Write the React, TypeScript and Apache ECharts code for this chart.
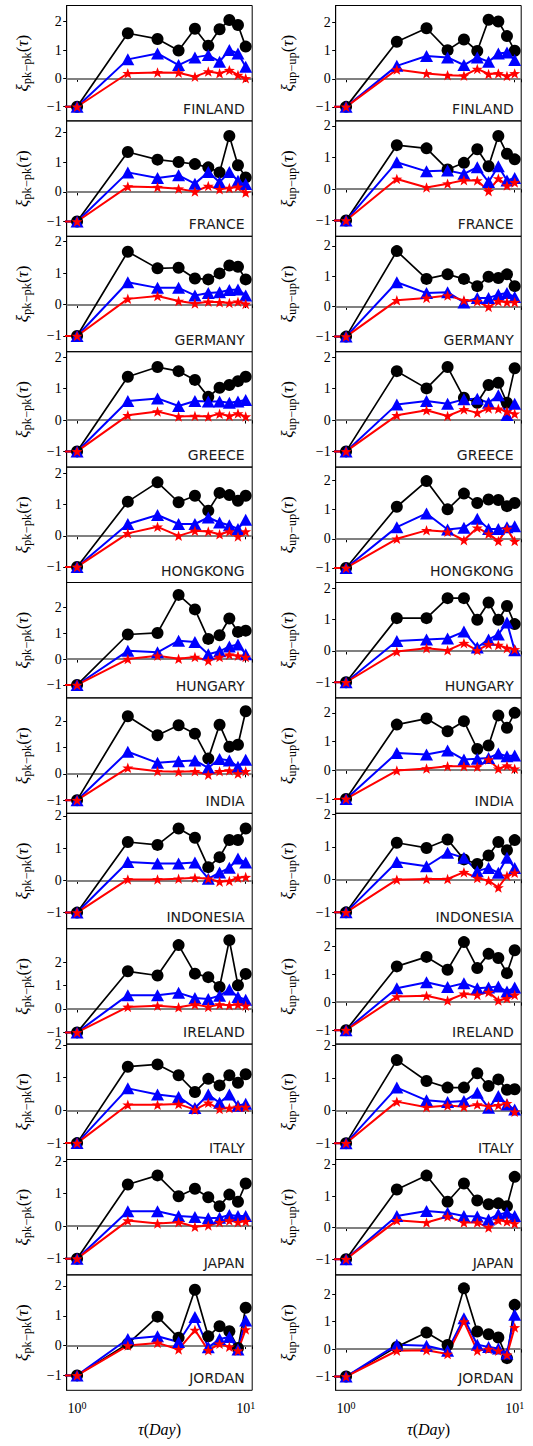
import React, { useEffect, useRef } from 'react';
import * as echarts from 'echarts';

const COUNTRIES = ['FINLAND', 'FRANCE', 'GERMANY', 'GREECE', 'HONGKONG', 'HUNGARY', 'INDIA', 'INDONESIA', 'IRELAND', 'ITALY', 'JAPAN', 'JORDAN'];

// lags; τ = 0 cannot sit on a log axis, it is clipped far left as matplotlib does
const TAU = [0, 1, 2, 3, 4, 5, 6, 7, 8, 9, 10];
const TAU_CLIP = 1e-3;

// ξ_pk-pk(τ), one row per country, values for τ = 0..10
const PK_BLACK = [
  [-1, -1, 1.59, 1.39, 0.98, 1.75, 1.15, 1.73, 2.06, 1.88, 1.12],
  [-1, -1, 1.35, 1.09, 1.01, 0.94, 0.83, 0.66, 1.89, 0.90, 0.49],
  [-1, -1, 1.68, 1.15, 1.17, 0.83, 0.80, 0.99, 1.24, 1.20, 0.80],
  [-1, -1, 1.38, 1.69, 1.56, 1.28, 0.74, 1.03, 1.12, 1.24, 1.38],
  [-1, -1, 1.10, 1.72, 1.08, 1.29, 0.81, 1.38, 1.31, 1.13, 1.29],
  [-1, -1, 0.95, 1.01, 2.48, 1.92, 0.78, 0.92, 1.57, 1.05, 1.10],
  [-1, -1, 2.19, 1.47, 1.85, 1.53, 0.58, 1.87, 1.03, 1.11, 2.38],
  [-1, -1, 1.19, 1.10, 1.61, 1.32, 0.41, 0.72, 1.25, 1.25, 1.61],
  [-1, -1, 1.61, 1.43, 2.73, 1.51, 1.36, 0.94, 2.94, 1.01, 1.50],
  [-1, -1, 1.33, 1.40, 1.07, 0.56, 0.96, 0.76, 1.07, 0.84, 1.10],
  [-1, -1, 1.28, 1.56, 0.92, 1.15, 0.89, 0.61, 0.97, 0.75, 1.31],
  [-1, -1, 0.06, 0.97, 0.26, 1.87, 0.31, 0.65, 0.48, -0.08, 1.27],
];
const PK_BLUE = [
  [-1, -1, 0.67, 0.88, 0.47, 0.74, 0.82, 0.59, 1.00, 0.88, 0.41],
  [-1, -1, 0.66, 0.47, 0.56, 0.28, 0.67, 0.33, 0.67, 0.38, 0.27],
  [-1, -1, 0.71, 0.53, 0.53, 0.29, 0.37, 0.39, 0.46, 0.48, 0.29],
  [-1, -1, 0.61, 0.69, 0.45, 0.61, 0.59, 0.59, 0.55, 0.59, 0.64],
  [-1, -1, 0.38, 0.67, 0.38, 0.38, 0.59, 0.43, 0.34, 0.22, 0.52],
  [-1, -1, 0.32, 0.26, 0.71, 0.66, 0.19, 0.30, 0.49, 0.56, 0.19],
  [-1, -1, 0.84, 0.42, 0.48, 0.51, 0.23, 0.57, 0.51, 0.27, 0.54],
  [-1, -1, 0.57, 0.52, 0.52, 0.55, 0.05, 0.24, 0.39, 0.68, 0.55],
  [-1, -1, 0.59, 0.59, 0.69, 0.47, 0.43, 0.57, 0.83, 0.51, 0.40],
  [-1, -1, 0.67, 0.48, 0.41, 0.07, 0.48, 0.23, 0.48, 0.14, 0.20],
  [-1, -1, 0.46, 0.46, 0.31, 0.28, 0.24, 0.26, 0.34, 0.31, 0.31],
  [-1, -1, 0.22, 0.31, 0.12, 0.96, -0.06, 0.22, 0.29, -0.13, 0.84],
];
const PK_RED = [
  [-1, -1, 0.18, 0.21, 0.20, 0.06, 0.24, 0.18, 0.29, 0.12, 0.00],
  [-1, -1, 0.18, 0.16, 0.11, 0.01, 0.20, 0.09, 0.13, 0.17, -0.02],
  [-1, -1, 0.18, 0.27, 0.11, 0.03, 0.09, 0.07, 0.05, 0.09, 0.02],
  [-1, -1, 0.15, 0.27, 0.11, 0.13, 0.11, 0.20, 0.13, 0.21, 0.11],
  [-1, -1, 0.08, 0.29, 0.00, 0.16, 0.14, 0.05, 0.14, -0.02, 0.14],
  [-1, -1, 0.00, 0.13, 0.01, 0.08, -0.06, 0.08, 0.17, 0.13, 0.08],
  [-1, -1, 0.23, 0.10, 0.08, 0.10, -0.03, 0.10, 0.13, 0.01, 0.10],
  [-1, -1, 0.03, 0.03, 0.05, 0.08, 0.05, -0.04, -0.02, 0.08, 0.10],
  [-1, -1, 0.09, 0.14, 0.07, 0.19, 0.09, 0.19, 0.16, 0.19, 0.14],
  [-1, -1, 0.17, 0.17, 0.19, 0.02, 0.23, 0.04, 0.07, 0.10, 0.10],
  [-1, -1, 0.17, 0.08, 0.12, -0.02, 0.02, 0.12, 0.17, 0.12, 0.15],
  [-1, -1, 0.00, 0.09, -0.13, 0.52, -0.16, 0.06, -0.04, -0.17, 0.54],
];

// ξ_up-up(τ)
const UP_BLACK = [
  [-1, -1, 1.32, 1.80, 1.02, 1.40, 0.99, 2.10, 2.04, 1.52, 1.00],
  [-1, -1, 1.39, 1.29, 0.62, 0.83, 1.26, 0.72, 1.68, 1.12, 0.94],
  [-1, -1, 1.83, 0.91, 1.06, 0.91, 0.67, 0.98, 0.94, 1.06, 0.67],
  [-1, -1, 1.56, 1.01, 1.69, 0.71, 0.55, 1.12, 1.19, 0.55, 1.65],
  [-1, -1, 1.10, 1.98, 1.01, 1.55, 1.23, 1.35, 1.33, 1.12, 1.23],
  [-1, -1, 1.05, 1.05, 1.69, 1.69, 1.00, 1.55, 1.00, 1.44, 0.86],
  [-1, -1, 1.59, 1.80, 1.36, 1.71, 0.74, 0.86, 1.91, 1.48, 2.00],
  [-1, -1, 1.13, 0.97, 1.23, 0.62, 0.48, 0.74, 1.15, 0.90, 1.21],
  [-1, -1, 1.28, 1.62, 1.16, 2.15, 1.22, 1.73, 1.58, 1.04, 1.86],
  [-1, -1, 1.54, 0.90, 0.70, 0.70, 1.14, 0.75, 0.95, 0.63, 0.65],
  [-1, -1, 1.21, 1.65, 0.82, 1.40, 0.86, 0.74, 0.77, 0.68, 1.61],
  [-1, -1, 0.08, 0.60, 0.15, 2.21, 0.64, 0.54, 0.42, -0.33, 1.61],
];
const UP_BLUE = [
  [-1, -1, 0.46, 0.81, 0.76, 0.49, 0.76, 0.61, 0.90, 0.94, 0.67],
  [-1, -1, 0.85, 0.56, 0.59, 0.48, 0.69, 0.22, 0.72, 0.27, 0.35],
  [-1, -1, 0.80, 0.44, 0.47, 0.13, 0.28, 0.28, 0.39, 0.44, 0.31],
  [-1, -1, 0.50, 0.61, 0.52, 0.66, 0.68, 0.55, 0.79, 0.16, 0.52],
  [-1, -1, 0.40, 0.87, 0.32, 0.38, 0.69, 0.34, 0.34, 0.40, 0.43],
  [-1, -1, 0.32, 0.37, 0.40, 0.62, 0.11, 0.37, 0.53, 0.91, 0.02],
  [-1, -1, 0.60, 0.55, 0.69, 0.37, 0.40, 0.43, 0.58, 0.49, 0.51],
  [-1, -1, 0.54, 0.41, 0.82, 0.67, 0.26, 0.36, 0.21, 0.67, 0.36],
  [-1, -1, 0.50, 0.71, 0.54, 0.68, 0.50, 0.53, 0.56, 0.38, 0.53],
  [-1, -1, 0.70, 0.31, 0.26, 0.29, 0.54, 0.08, 0.44, 0.18, 0.03],
  [-1, -1, 0.37, 0.53, 0.47, 0.37, 0.35, 0.26, 0.42, 0.47, 0.37],
  [-1, -1, 0.16, 0.12, -0.06, 1.12, 0.16, 0.08, 0.02, -0.16, 1.25],
];
const UP_RED = [
  [-1, -1, 0.33, 0.19, 0.13, 0.11, 0.35, 0.17, 0.19, 0.10, 0.19],
  [-1, -1, 0.32, 0.05, 0.17, 0.28, 0.27, -0.07, 0.33, 0.11, 0.21],
  [-1, -1, 0.20, 0.28, 0.36, 0.20, 0.17, -0.02, 0.17, 0.14, 0.14],
  [-1, -1, 0.15, 0.31, 0.13, 0.34, 0.23, 0.37, 0.36, 0.27, 0.20],
  [-1, -1, 0.00, 0.29, 0.24, -0.05, 0.38, 0.17, -0.08, 0.34, -0.08],
  [-1, -1, -0.02, 0.09, 0.02, 0.25, 0.02, 0.21, 0.19, 0.09, 0.05],
  [-1, -1, -0.01, 0.06, 0.14, 0.14, 0.12, 0.37, 0.05, 0.16, 0.05],
  [-1, -1, 0.00, 0.02, 0.02, 0.23, 0.05, -0.03, -0.24, 0.12, 0.21],
  [-1, -1, 0.20, 0.23, 0.06, 0.30, 0.26, 0.36, 0.06, 0.14, 0.26],
  [-1, -1, 0.27, 0.10, 0.15, 0.11, 0.18, 0.13, 0.16, 0.22, -0.04],
  [-1, -1, 0.23, 0.16, 0.35, 0.16, 0.16, 0.00, 0.23, 0.19, 0.13],
  [-1, -1, -0.06, -0.04, -0.18, 1.00, -0.06, 0.00, -0.06, -0.21, 0.79],
];

// y-axis limits per panel
const Y_MIN = -1.5;
const YMAX_PK = [2.57, 2.40, 2.17, 2.18, 2.21, 2.96, 2.89, 2.08, 3.43, 2.02, 2.05, 2.37];
const YMAX_UP = [2.61, 2.16, 2.32, 2.18, 2.46, 2.19, 2.52, 2.03, 2.63, 2.03, 2.16, 2.70];
const Y_TICKS = [-1, 0, 1, 2];
const X_MIN = 0.868;
const X_MAX = 10.93;

// layout
const TOP0 = 5.5;
const PANEL_H = 115.4;
const PANEL_W = 185.5;
const COL_LEFT = [66.7, 335.7];
const NAME_GAP = [33, 37];

const BLACK = '#000000';
const BLUE = '#0000ff';
const RED = '#ff0000';
const STAR = 'path://M0,-10L2.351,-3.236L9.511,-3.09L3.804,1.236L5.878,8.09L0,4L-5.878,8.09L-3.804,1.236L-9.511,-3.09L-2.351,-3.236Z';
const SERIF = 'Liberation Serif';

const fmtY = (v: number) => (v < 0 ? '\u2212' + Math.abs(v) : String(v));
const fmtX = (v: number) => {
  const l = Math.log10(v);
  if (Math.abs(l - Math.round(l)) < 1e-6) return `{b|10}{s|${Math.round(l)}}`;
  return '';
};

export default function App() {
  const ref = useRef<HTMLDivElement>(null);
  useEffect(() => {
    const chart = echarts.init(ref.current!, null, { renderer: 'svg' });
    const grids: any[] = [];
    const xAxes: any[] = [];
    const yAxes: any[] = [];
    const series: any[] = [];
    const graphics: any[] = [];
    const cols = [
      { black: PK_BLACK, blue: PK_BLUE, red: PK_RED, ymax: YMAX_PK, sub: 'pk\u2212pk' },
      { black: UP_BLACK, blue: UP_BLUE, red: UP_RED, ymax: YMAX_UP, sub: 'up\u2212up' },
    ];
    const xs = TAU.map((t) => (t > 0 ? t : TAU_CLIP));
    COUNTRIES.forEach((country, r) => {
      cols.forEach((col, c) => {
        const idx = grids.length;
        const top = TOP0 + r * PANEL_H;
        const left = COL_LEFT[c];
        const last = r === COUNTRIES.length - 1;
        grids.push({ left, top, width: PANEL_W, height: PANEL_H, show: true, borderColor: '#000', borderWidth: 1, backgroundColor: 'transparent' });
        xAxes.push({
          type: 'log', logBase: 10, gridIndex: idx, min: X_MIN, max: X_MAX,
          axisLine: { show: true, lineStyle: { color: '#000', width: 1 } },
          axisTick: { show: true, length: 3.5, lineStyle: { color: '#000', width: 1 } },
          splitLine: { show: false },
          axisLabel: {
            show: last, margin: 10, formatter: fmtX, color: '#000',
            rich: {
              b: { fontFamily: SERIF, fontSize: 14, lineHeight: 17, color: '#000' },
              s: { fontFamily: SERIF, fontSize: 10, lineHeight: 10, verticalAlign: 'top', color: '#000' },
            },
          },
          name: last ? '{i|\u03c4}{p|(}{i|Day}{p|)}' : '',
          nameLocation: 'middle', nameGap: 31,
          nameTextStyle: {
            rich: {
              i: { fontFamily: SERIF, fontStyle: 'italic', fontSize: 16, color: '#000' },
              p: { fontFamily: SERIF, fontSize: 16, color: '#000' },
            },
          },
        });
        yAxes.push({
          type: 'value', gridIndex: idx, min: Y_MIN, max: col.ymax[r],
          axisLine: { show: true, lineStyle: { color: '#000', width: 1 } },
          axisTick: { show: true, length: 3.5, customValues: Y_TICKS, lineStyle: { color: '#000', width: 1 } },
          splitLine: { show: false },
          axisLabel: { customValues: Y_TICKS, formatter: fmtY, color: '#000', fontFamily: SERIF, fontSize: 14, margin: 5 },
          name: `{x|\u03be}{s|${col.sub}}{p|(}{x|\u03c4}{p|)}`,
          nameLocation: 'middle', nameRotate: 90, nameGap: NAME_GAP[c],
          nameTextStyle: {
            rich: {
              x: { fontFamily: SERIF, fontStyle: 'italic', fontSize: 17, lineHeight: 22, color: '#000' },
              s: { fontFamily: SERIF, fontSize: 12.5, lineHeight: 12, verticalAlign: 'bottom', color: '#000' },
              p: { fontFamily: SERIF, fontSize: 17, lineHeight: 22, color: '#000' },
            },
          },
        });
        const mk = (vals: number[]) => xs.map((x, i) => [x, vals[i]]);
        series.push({
          type: 'line', xAxisIndex: idx, yAxisIndex: idx, data: mk(col.black[r]), clip: true,
          symbol: 'circle', symbolSize: 12, showAllSymbol: true,
          lineStyle: { color: BLACK, width: 1.7 }, itemStyle: { color: BLACK },
          markLine: {
            silent: true, symbol: 'none', z: 1, label: { show: false },
            lineStyle: { color: '#808080', width: 2, type: 'solid' },
            data: [{ yAxis: 0 }],
          },
        });
        series.push({
          type: 'line', xAxisIndex: idx, yAxisIndex: idx, data: mk(col.blue[r]), clip: true,
          symbol: 'triangle', symbolSize: [13, 12], showAllSymbol: true,
          lineStyle: { color: BLUE, width: 2 }, itemStyle: { color: BLUE },
        });
        series.push({
          type: 'line', xAxisIndex: idx, yAxisIndex: idx, data: mk(col.red[r]), clip: true,
          symbol: STAR, symbolSize: [11, 10.5], showAllSymbol: true,
          lineStyle: { color: RED, width: 2 }, itemStyle: { color: RED },
        });
        graphics.push({
          type: 'text', x: left + PANEL_W - 7.5, y: top + PANEL_H - 5,
          style: { text: country, align: 'right', verticalAlign: 'bottom', fontFamily: 'DejaVu Sans', fontSize: 14, fill: '#1a1a1a' },
          silent: true,
        });
      });
    });
    chart.setOption({
      animation: false,
      backgroundColor: '#ffffff',
      grid: grids,
      xAxis: xAxes,
      yAxis: yAxes,
      series,
      graphic: graphics,
    });
    return () => chart.dispose();
  }, []);
  return <div ref={ref} style={{ position: 'absolute', left: 0, top: 0, width: 533, height: 1446 }} />;
}
